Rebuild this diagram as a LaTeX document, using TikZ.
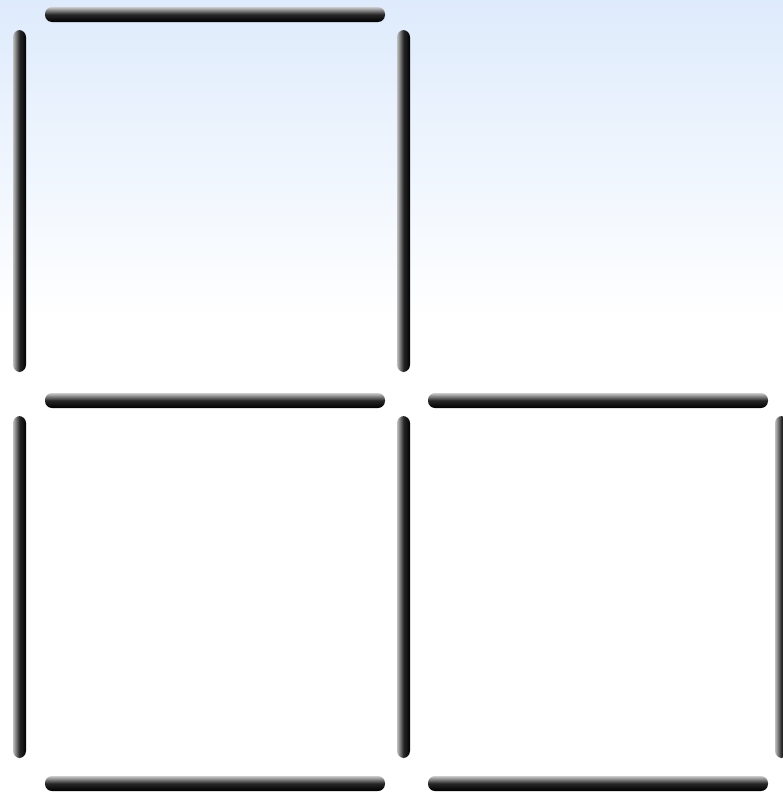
\documentclass[tikz,border=0pt]{standalone}
\usetikzlibrary{positioning}
\definecolor{skytop}{RGB}{222,235,252}
\tikzset{
  hstick/.style={rounded corners=4pt,top color=white!80!black,bottom color=black,middle color=black!85},
  vstick/.style={rounded corners=4pt,left color=white!75!black,right color=black,middle color=black!85}
}

\begin{document}
\begin{tikzpicture}[x=0.02cm,y=-0.02cm]
\useasboundingbox (0,0) rectangle (783,799);
% background
\fill[white] (0,0) rectangle (783,799);
\shade[top color=skytop,bottom color=white] (0,0) rectangle (783,320);
% horizontal sticks
\foreach \x/\y in {45/7, 45/393, 428/393, 45/776, 428/776}
  \shade[hstick] (\x,\y) rectangle ++(340,15);
% vertical sticks
\foreach \x/\y in {13/30, 397/30, 13/416, 397/416, 775/416}
  \shade[vstick] (\x,\y) rectangle ++(13,342);
\end{tikzpicture}
\end{document}
